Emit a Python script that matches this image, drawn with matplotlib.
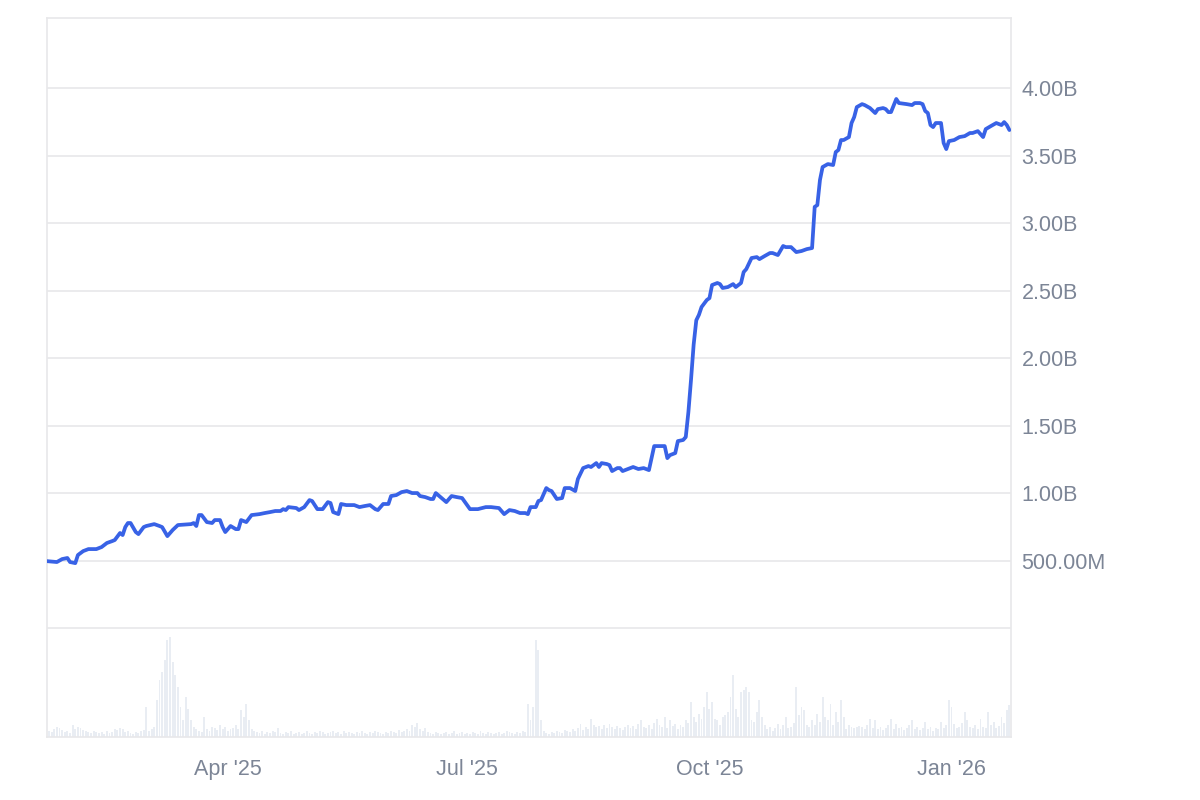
import matplotlib
matplotlib.use("Agg")
import matplotlib.pyplot as plt
import matplotlib.dates as mdates
import numpy as np
import pandas as pd

# ---------------- data ----------------
start_date = "2025-01-22"

# TVL line: day offset from start_date, value in billions
days = [0, 4, 6, 8, 9, 11, 12, 14, 16, 19, 21, 23, 25, 26, 28, 29, 30, 31, 32, 34,
        35, 37, 38, 41, 43, 44, 46, 48, 50, 55, 56, 57, 58, 59, 61, 63, 64, 66, 67, 68,
        70, 72, 73, 74, 76, 78, 81, 83, 85, 87, 89, 90, 91, 92, 95, 96, 98, 100, 101, 103,
        105, 107, 108, 109, 111, 112, 114, 117, 119, 121, 123, 125, 126, 128, 130, 131, 133, 135, 137, 139,
        141, 142, 144, 146, 147, 148, 152, 154, 156, 158, 161, 164, 167, 169, 172, 174, 176, 178, 180, 182,
        183, 184, 186, 187, 188, 190, 191, 192, 194, 196, 197, 199, 201, 202, 204, 206, 207, 209, 210, 211,
        213, 214, 215, 217, 218, 219, 221, 223, 225, 227, 229, 231, 234, 235, 236, 237, 239, 240, 242, 243,
        244, 245, 246, 247, 248, 249, 251, 252, 253, 255, 256, 257, 259, 261, 262, 264, 265, 266, 268, 270,
        271, 273, 275, 276, 278, 280, 281, 283, 285, 287, 289, 291, 292, 293, 294, 295, 297, 299, 300, 301,
        302, 303, 305, 306, 307, 308, 310, 311, 313, 315, 316, 318, 319, 320, 321, 323, 324, 327, 329, 330,
        332, 333, 334, 335, 336, 337, 338, 340, 341, 342, 343, 345, 347, 349, 351, 352, 354, 356, 357, 359,
        361, 363, 364, 365, 366]
tvl_b = [0.496, 0.489, 0.511, 0.519, 0.489, 0.481, 0.541, 0.570, 0.585, 0.585, 0.600, 0.630, 0.644, 0.652, 0.704, 0.689, 0.748, 0.778, 0.778, 0.711,
         0.696, 0.748, 0.756, 0.770, 0.756, 0.748, 0.681, 0.726, 0.763, 0.770, 0.778, 0.756, 0.837, 0.837, 0.785, 0.778, 0.800, 0.800, 0.748, 0.711,
         0.756, 0.733, 0.733, 0.800, 0.785, 0.837, 0.844, 0.852, 0.859, 0.867, 0.867, 0.881, 0.874, 0.896, 0.889, 0.874, 0.896, 0.948, 0.941, 0.881,
         0.881, 0.933, 0.926, 0.859, 0.844, 0.919, 0.911, 0.911, 0.896, 0.904, 0.911, 0.881, 0.874, 0.919, 0.919, 0.978, 0.985, 1.007, 1.015, 1.000,
         1.000, 0.978, 0.970, 0.956, 0.956, 1.000, 0.933, 0.978, 0.970, 0.963, 0.881, 0.881, 0.896, 0.896, 0.889, 0.844, 0.874, 0.867, 0.852, 0.852,
         0.844, 0.896, 0.896, 0.941, 0.948, 1.037, 1.022, 1.015, 0.956, 0.963, 1.037, 1.037, 1.015, 1.104, 1.185, 1.200, 1.193, 1.222, 1.193, 1.222,
         1.215, 1.207, 1.163, 1.185, 1.185, 1.163, 1.178, 1.193, 1.178, 1.185, 1.170, 1.348, 1.348, 1.348, 1.259, 1.281, 1.296, 1.385, 1.393, 1.415,
         1.600, 1.840, 2.100, 2.280, 2.320, 2.378, 2.430, 2.444, 2.541, 2.556, 2.548, 2.519, 2.526, 2.548, 2.526, 2.556, 2.637, 2.659, 2.741, 2.748,
         2.733, 2.756, 2.778, 2.778, 2.763, 2.830, 2.822, 2.822, 2.785, 2.793, 2.807, 2.815, 3.120, 3.133, 3.319, 3.415, 3.437, 3.430, 3.526, 3.541,
         3.615, 3.615, 3.637, 3.741, 3.785, 3.859, 3.881, 3.874, 3.852, 3.815, 3.844, 3.852, 3.844, 3.822, 3.822, 3.919, 3.889, 3.881, 3.874, 3.889,
         3.889, 3.881, 3.830, 3.815, 3.726, 3.711, 3.741, 3.741, 3.593, 3.548, 3.607, 3.615, 3.637, 3.644, 3.667, 3.667, 3.681, 3.637, 3.696, 3.719,
         3.741, 3.726, 3.748, 3.726, 3.689]

# Daily volume (relative units), day 0 .. 366
volume = [4, 6, 5, 8, 10, 9, 7, 5, 6, 4,
          12, 8, 10, 9, 7, 6, 5, 4, 6, 5,
          4, 5, 3, 6, 4, 5, 8, 7, 9, 8,
          5, 6, 4, 3, 5, 4, 6, 7, 30, 6,
          8, 10, 37, 57, 65, 77, 97, 100, 75, 62,
          50, 30, 17, 40, 28, 17, 10, 8, 6, 5,
          20, 8, 6, 10, 9, 7, 12, 8, 10, 6,
          8, 9, 12, 8, 27, 20, 33, 17, 8, 6,
          5, 4, 6, 3, 5, 4, 6, 5, 9, 4,
          3, 5, 4, 6, 3, 4, 5, 3, 4, 6,
          4, 3, 5, 4, 6, 5, 3, 4, 5, 6,
          4, 5, 3, 6, 4, 5, 4, 3, 5, 4,
          6, 4, 3, 5, 4, 6, 5, 4, 3, 5,
          4, 6, 5, 4, 7, 5, 6, 8, 6, 12,
          10, 14, 8, 6, 9, 5, 4, 3, 5, 4,
          3, 4, 5, 3, 4, 6, 3, 4, 5, 3,
          4, 3, 5, 4, 3, 6, 4, 3, 5, 4,
          3, 4, 5, 3, 4, 6, 5, 4, 3, 5,
          4, 6, 5, 33, 17, 30, 97, 87, 17, 6,
          4, 3, 5, 4, 6, 5, 4, 7, 6, 5,
          8, 6, 9, 13, 7, 10, 8, 18, 12, 10,
          11, 8, 12, 9, 13, 10, 8, 11, 9, 7,
          10, 12, 9, 11, 8, 13, 17, 10, 9, 12,
          8, 14, 18, 12, 10, 20, 9, 17, 11, 13,
          8, 12, 10, 17, 14, 35, 20, 15, 23, 18,
          30, 45, 28, 35, 18, 17, 12, 20, 22, 25,
          40, 62, 28, 20, 45, 47, 50, 45, 17, 15,
          25, 37, 20, 12, 8, 10, 6, 9, 13, 8,
          12, 20, 9, 10, 14, 50, 22, 30, 27, 12,
          10, 17, 12, 23, 15, 40, 20, 17, 33, 12,
          25, 15, 37, 20, 8, 12, 10, 9, 10, 11,
          10, 8, 12, 18, 9, 17, 8, 10, 7, 9,
          12, 18, 8, 13, 9, 10, 7, 9, 12, 17,
          8, 10, 7, 9, 15, 8, 10, 6, 9, 8,
          15, 9, 12, 37, 30, 13, 9, 10, 14, 25,
          17, 10, 9, 12, 8, 18, 10, 9, 25, 12,
          15, 9, 11, 20, 14, 27, 32]

y_ticks_b = [0.5, 1.0, 1.5, 2.0, 2.5, 3.0, 3.5, 4.0]
y_tick_labels = ["500.00M", "1.00B", "1.50B", "2.00B", "2.50B", "3.00B", "3.50B", "4.00B"]
x_tick_dates = ["2025-04-01", "2025-07-01", "2025-10-01", "2026-01-01"]
x_tick_labels = ["Apr '25", "Jul '25", "Oct '25", "Jan '26"]

# ---------------- plot ----------------
plt.rcParams['font.family'] = ['Liberation Sans', 'DejaVu Sans']

t0 = pd.Timestamp(start_date)
line_dates = t0 + pd.to_timedelta(days, unit="D")
vol_dates = t0 + pd.to_timedelta(np.arange(len(volume)), unit="D")

fig = plt.figure(figsize=(12, 8), dpi=100)
ax = fig.add_axes([47 / 1200, 1 - 737 / 800, (1011 - 47) / 1200, (737 - 18) / 800])
axv = ax.twinx()
ax.set_zorder(2)
axv.set_zorder(1)
ax.patch.set_visible(False)

grid_c = "#e8e8ea"
text_c = "#7c8596"

# volume bars
axv.bar(vol_dates, volume, width=0.72, color="#e9edf3", align="center", linewidth=0)
axv.set_ylim(0, 719)
axv.set_yticks([])
for s in axv.spines.values():
    s.set_visible(False)

# TVL line
ax.plot(line_dates, np.array(tvl_b) * 1e9, color="#3862e6", linewidth=2.7,
        solid_joinstyle="round", solid_capstyle="round", zorder=3)

ax.set_ylim(-0.807e9, 4.519e9)
ax.set_xlim(t0 + pd.Timedelta(hours=6), t0 + pd.Timedelta(days=366.6))

# grid lines (including zero line without label)
ax.set_yticks([0] + [v * 1e9 for v in y_ticks_b])
ax.set_yticklabels([""] + y_tick_labels)
ax.yaxis.tick_right()
ax.tick_params(axis="y", length=0, pad=7.5, labelsize=15.5, labelcolor=text_c)
ax.grid(axis="y", color=grid_c, linewidth=1.2)
ax.grid(axis="x", visible=False)

ax.set_xticks(pd.to_datetime(x_tick_dates))
ax.set_xticklabels(x_tick_labels)
ax.tick_params(axis="x", length=0, pad=16, labelsize=15.5, labelcolor=text_c)

for s in ax.spines.values():
    s.set_color(grid_c)
    s.set_linewidth(1.2)

fig.savefig("out.png", dpi=100, facecolor="white")
